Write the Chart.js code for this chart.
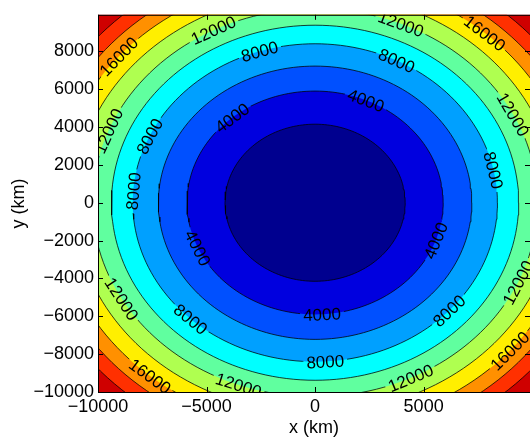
<!DOCTYPE html>
<html>
<head>
<meta charset="utf-8">
<script src="https://cdn.jsdelivr.net/npm/chart.js@4/dist/chart.umd.min.js"></script>
<style>
  html, body { margin: 0; padding: 0; background: #fff; overflow: hidden; }
</style>
</head>
<body>
<canvas id="chart" width="530" height="439"></canvas>
<script>
// contour levels and the radius (km) where each one crosses
const levels = [2000, 4000, 6000, 8000, 10000, 12000, 14000, 16000, 18000, 20000];
const contourRadii = [4150, 5900, 7220, 8400, 9380, 10250, 11100, 11900, 12600, 13300];
// band colours: band i lies below levels[i], the last one above 20000
const bandColors = ['#00008F', '#0000DF', '#0050FF', '#00A0FF', '#00FFFF', '#60FF9F',
                    '#AFFF50', '#FFEF00', '#FF9000', '#FF3000', '#CF0000'];

// inline labels: angle (degrees) round the centre where each label sits
const labelAngles4000 = [130.4, 66.6, 203.8, -19.8, -86.9];
const labelAngles8000 = [107.7, 63.4, 155.3, 175.8, 11.8, 227, -86.8, -42.7];
const labelAngles12000 = [117.2, 67.3, 27.1, 158.3, 209.7, 249.9, -64.6, -24.3];
const labelAngles16000 = [139.5, 48.9, 230.3, -41.1];

const xTicks = [-10000, -5000, 0, 5000];
const yTicks = [-10000, -8000, -6000, -4000, -2000, 0, 2000, 4000, 6000, 8000];

const labelSets = [
  { level: 4000, angles: labelAngles4000 },
  { level: 8000, angles: labelAngles8000 },
  { level: 12000, angles: labelAngles12000 },
  { level: 16000, angles: labelAngles16000 },
];

const FONT = '"Liberation Sans", Arial, Helvetica, sans-serif';
const labelFont = '17px ' + FONT;

function circlePoints(r) {
  const pts = [];
  for (let k = 0; k <= 180; k++) {
    const t = k * 2 * Math.PI / 180;
    pts.push({ x: r * Math.cos(t), y: r * Math.sin(t) });
  }
  return pts;
}

const datasets = [];
levels.forEach((lv, i) => {
  datasets.push({
    data: circlePoints(contourRadii[i]),
    showLine: true,
    fill: 'shape',
    backgroundColor: bandColors[i],
    borderWidth: 0,
    pointRadius: 0,
    order: 100 + i
  });
  datasets.push({
    data: circlePoints(contourRadii[i]),
    showLine: true,
    fill: false,
    borderColor: '#000',
    borderWidth: 0.75,
    pointRadius: 0,
    order: 0,
    isContourLine: true,
    level: lv
  });
});

function radiusOf(level) {
  return contourRadii[levels.indexOf(level)];
}

function placeLabels(chart, level, angles) {
  const xs = chart.scales.x, ys = chart.scales.y;
  const r = radiusOf(level);
  return angles.map(deg => {
    const t = deg * Math.PI / 180, e = 0.01;
    const px = xs.getPixelForValue(r * Math.cos(t));
    const py = ys.getPixelForValue(r * Math.sin(t));
    const dx = xs.getPixelForValue(r * Math.cos(t + e)) - xs.getPixelForValue(r * Math.cos(t - e));
    const dy = ys.getPixelForValue(r * Math.sin(t + e)) - ys.getPixelForValue(r * Math.sin(t - e));
    let rot = Math.atan2(dy, dx);
    if (rot > Math.PI / 2) rot -= Math.PI;
    if (rot <= -Math.PI / 2) rot += Math.PI;
    return { x: px, y: py, rot };
  });
}

const fmt = v => (v < 0 ? '\u2212' : '') + Math.abs(v);

const contourPlugin = {
  id: 'contour',
  beforeDatasetsDraw(chart) {
    const { ctx, chartArea: a } = chart;
    ctx.save();
    ctx.fillStyle = bandColors[bandColors.length - 1];
    ctx.fillRect(a.left, a.top, a.right - a.left, a.bottom - a.top);
    ctx.restore();
  },
  beforeDatasetDraw(chart, args) {
    const ds = chart.data.datasets[args.index];
    if (!ds.isContourLine) return;
    const { ctx, chartArea: a } = chart;
    ctx.save();
    ctx.beginPath();
    ctx.rect(a.left, a.top, a.right - a.left, a.bottom - a.top);
    const set = labelSets.find(s => s.level === ds.level);
    if (set) {
      ctx.font = labelFont;
      const w = ctx.measureText(String(set.level)).width + 6;
      const h = 16;
      placeLabels(chart, set.level, set.angles).forEach(p => {
        const c = Math.cos(p.rot), s = Math.sin(p.rot);
        const corners = [[-w / 2, -h / 2], [w / 2, -h / 2], [w / 2, h / 2], [-w / 2, h / 2]];
        corners.forEach(([u, v], k) => {
          const X = p.x + u * c - v * s, Y = p.y + u * s + v * c;
          if (k === 0) ctx.moveTo(X, Y); else ctx.lineTo(X, Y);
        });
        ctx.closePath();
      });
    }
    ctx.clip('evenodd');
  },
  afterDatasetDraw(chart, args) {
    const ds = chart.data.datasets[args.index];
    if (ds.isContourLine) chart.ctx.restore();
  },
  afterDatasetsDraw(chart) {
    const { ctx, chartArea: a } = chart;
    const xs = chart.scales.x, ys = chart.scales.y;
    // contour labels
    ctx.save();
    ctx.beginPath();
    ctx.rect(a.left, a.top, a.right - a.left, a.bottom - a.top);
    ctx.clip();
    ctx.font = labelFont;
    ctx.fillStyle = '#000';
    ctx.textAlign = 'center';
    ctx.textBaseline = 'alphabetic';
    labelSets.forEach(set => {
      placeLabels(chart, set.level, set.angles).forEach(p => {
        ctx.save();
        ctx.translate(p.x, p.y);
        ctx.rotate(p.rot);
        ctx.fillText(String(set.level), 0, 6);
        ctx.restore();
      });
    });
    ctx.restore();

    // box and inward ticks
    ctx.save();
    ctx.strokeStyle = '#000';
    ctx.lineWidth = 1;
    ctx.strokeRect(a.left + 0.5, a.top + 0.5, a.right - a.left, a.bottom - a.top);
    ctx.beginPath();
    const tl = 5;
    xTicks.forEach(v => {
      const x = Math.round(xs.getPixelForValue(v)) + 0.5;
      ctx.moveTo(x, a.bottom); ctx.lineTo(x, a.bottom - tl);
      ctx.moveTo(x, a.top); ctx.lineTo(x, a.top + tl);
    });
    yTicks.forEach(v => {
      const y = Math.round(ys.getPixelForValue(v)) + 0.5;
      ctx.moveTo(a.left, y); ctx.lineTo(a.left + tl, y);
      ctx.moveTo(a.right, y); ctx.lineTo(a.right - tl, y);
    });
    ctx.stroke();
    ctx.restore();
  }
};

new Chart(document.getElementById('chart'), {
  type: 'scatter',
  data: { datasets },
  options: {
    responsive: false,
    devicePixelRatio: 1,
    animation: false,
    events: [],
    layout: { padding: { top: 7, left: 0, right: 0, bottom: 0 } },
    plugins: { legend: { display: false }, tooltip: { enabled: false } },
    scales: {
      x: {
        type: 'linear',
        min: -10000,
        max: 9900,
        grid: { display: false, drawTicks: false },
        border: { display: false },
        afterBuildTicks: s => { s.ticks = xTicks.map(v => ({ value: v })); },
        afterFit: s => { s.height = 47; },
        ticks: {
          autoSkip: false, maxRotation: 0, padding: 4, color: '#000',
          font: { family: FONT, size: 18 },
          callback: fmt
        },
        title: {
          display: true, text: 'x (km)', color: '#000',
          font: { family: FONT, size: 18 },
          padding: { top: 0, bottom: 0 }
        }
      },
      y: {
        type: 'linear',
        min: -10000,
        max: 9930,
        grid: { display: false, drawTicks: false },
        border: { display: false },
        afterBuildTicks: s => { s.ticks = yTicks.map(v => ({ value: v })); },
        afterFit: s => { s.width = 98; },
        ticks: {
          autoSkip: false, padding: 4, color: '#000',
          font: { family: FONT, size: 18 },
          callback: fmt
        },
        title: {
          display: true, text: 'y (km)', color: '#000',
          font: { family: FONT, size: 18 },
          padding: { top: 8, bottom: 0 }
        }
      }
    }
  },
  plugins: [contourPlugin]
});
</script>
</body>
</html>
